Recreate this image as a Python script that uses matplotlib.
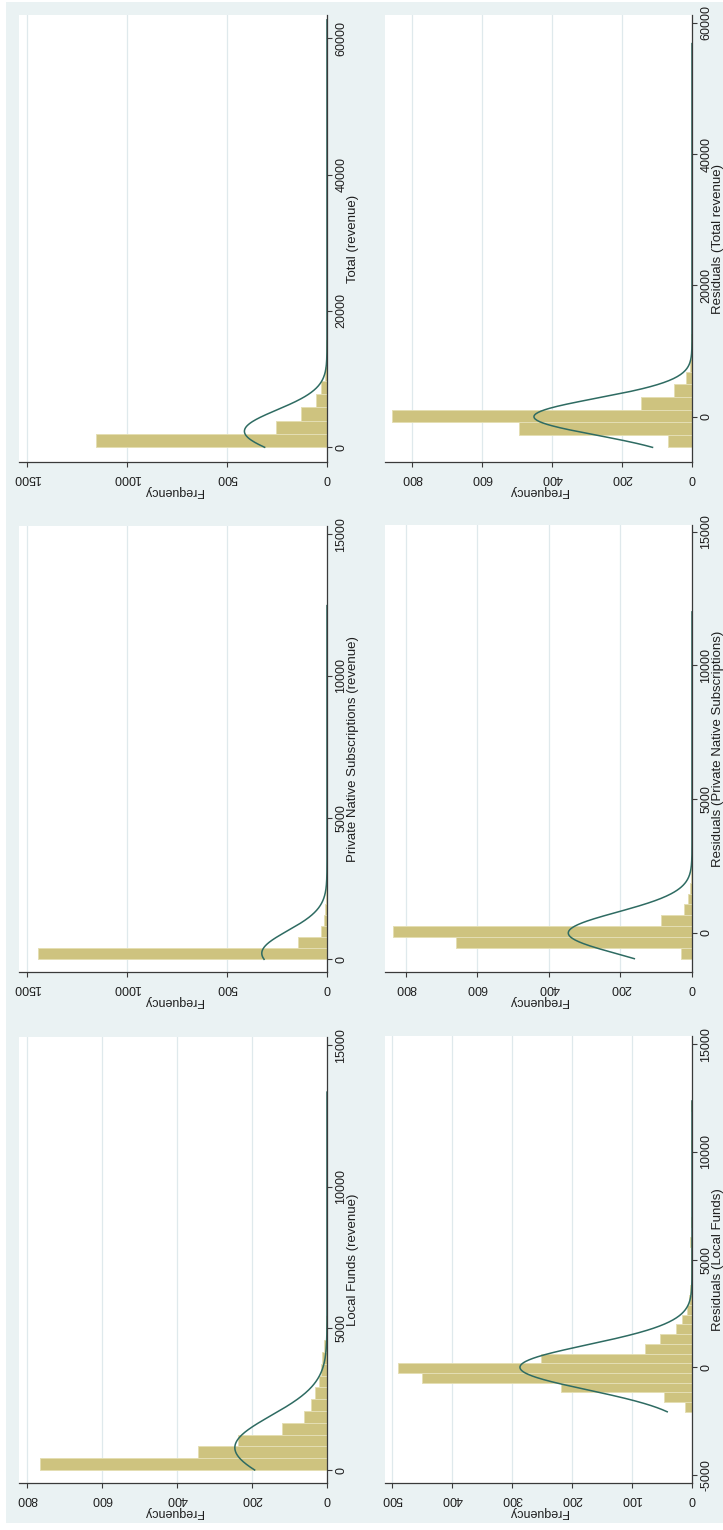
import numpy as np
import matplotlib
matplotlib.use("Agg")
import matplotlib.pyplot as plt
from matplotlib.patches import Rectangle

plt.rcParams['font.family'] = ['Liberation Sans', 'DejaVu Sans']

# ---------------- data ----------------
titles = ["Total (revenue)",
          "Private Native Subscriptions (revenue)",
          "Local Funds (revenue)",
          "Residuals (Total revenue)",
          "Residuals (Private Native Subscriptions)",
          "Residuals (Local Funds)"]

# histogram: first bin edge, bin width, counts (32 bins each)
total_start, total_width = 0, 1960
total_counts = [1156, 257, 129, 57, 28, 12, 6, 6, 2, 1, 1, 0, 0, 0, 1, 0,
                0, 0, 0, 0, 0, 0, 0, 0, 0, 0, 0, 0, 0, 0, 0, 1]
total_mean, total_sd = 2352, 3137

private_start, private_width = 0, 390
private_counts = [1445, 145, 30, 17, 8, 4, 3, 2, 1, 1, 1, 0, 1, 0, 0, 0,
                  0, 0, 0, 1, 0, 0, 0, 0, 0, 0, 0, 0, 0, 0, 0, 1]
private_mean, private_sd = 212, 792

local_start, local_width = 0, 417
local_counts = [766, 344, 237, 120, 61, 44, 33, 22, 17, 13, 8, 4, 2, 1, 1, 0,
                1, 0, 0, 0, 1, 0, 0, 0, 0, 0, 0, 0, 1, 0, 0, 1]
local_mean, local_sd = 789, 1134

rtotal_start, rtotal_width = -4670, 1922
rtotal_counts = [69, 495, 857, 147, 51, 16, 7, 4, 2, 1, 1, 0, 1, 0, 0, 0,
                 1, 0, 0, 0, 0, 0, 0, 0, 0, 0, 0, 0, 0, 0, 0, 1]
rtotal_mean, rtotal_sd = 0, 2804

rprivate_start, rprivate_width = -960, 405
rprivate_counts = [30, 660, 837, 86, 23, 11, 5, 3, 2, 1, 1, 1, 0, 1, 0, 0,
                   0, 0, 0, 1, 0, 0, 0, 0, 0, 0, 0, 0, 0, 0, 0, 1]
rprivate_mean, rprivate_sd = 0, 777

rlocal_start, rlocal_width = -2065, 451
rlocal_counts = [11, 46, 219, 450, 490, 252, 79, 54, 27, 16, 9, 5, 3, 2, 1, 1,
                 1, 4, 0, 1, 0, 0, 0, 0, 0, 0, 0, 1, 0, 0, 0, 1]
rlocal_mean, rlocal_sd = 0, 1049

freq_ticks_1500 = [0, 500, 1000, 1500]
freq_ticks_800 = [0, 200, 400, 600, 800]
freq_ticks_500 = [0, 100, 200, 300, 400, 500]
value_ticks_60000 = [0, 20000, 40000, 60000]
value_ticks_15000 = [0, 5000, 10000, 15000]
value_ticks_resid15000 = [-5000, 0, 5000, 10000, 15000]

# ---------------- style ----------------
W, H = 723, 1530
BG = '#EAF2F3'
BAR = '#CEC37F'
BAR_EDGE = '#E4DEB3'
CURVE = '#2E6B62'
AXIS = '#3A3A3A'
GRID = '#DFE9EC'
TXT = '#1E1E1E'
FS = 9

panels = [
    dict(title=titles[0], start=total_start, width=total_width, counts=total_counts,
         mu=total_mean, sd=total_sd, box=(19, 15, 327, 462), flim=1540,
         fticks=freq_ticks_1500, vlim=(-2157, 63430), vticks=value_ticks_60000),
    dict(title=titles[1], start=private_start, width=private_width, counts=private_counts,
         mu=private_mean, sd=private_sd, box=(19, 526, 327, 972), flim=1540,
         fticks=freq_ticks_1500, vlim=(-448, 15290), vticks=value_ticks_15000),
    dict(title=titles[2], start=local_start, width=local_width, counts=local_counts,
         mu=local_mean, sd=local_sd, box=(19, 1037, 327, 1483), flim=822,
         fticks=freq_ticks_800, vlim=(-459, 15290), vticks=value_ticks_15000),
    dict(title=titles[3], start=rtotal_start, width=rtotal_width, counts=rtotal_counts,
         mu=rtotal_mean, sd=rtotal_sd, box=(385, 15, 692, 462), flim=878,
         fticks=freq_ticks_800, vlim=(-6900, 61190), vticks=value_ticks_60000),
    dict(title=titles[4], start=rprivate_start, width=rprivate_width, counts=rprivate_counts,
         mu=rprivate_mean, sd=rprivate_sd, box=(385, 525, 692, 972), flim=858,
         fticks=freq_ticks_800, vlim=(-1458, 15247), vticks=value_ticks_15000),
    dict(title=titles[5], start=rlocal_start, width=rlocal_width, counts=rlocal_counts,
         mu=rlocal_mean, sd=rlocal_sd, box=(385, 1036, 692, 1483), flim=512,
         fticks=freq_ticks_500, vlim=(-5371, 15381), vticks=value_ticks_resid15000),
]

fig = plt.figure(figsize=(W / 100, H / 100), dpi=100)
fig.patch.set_facecolor('white')
fig.patches.append(Rectangle((6 / W, 1 - 1523 / H), (W - 6) / W, (1523 - 2) / H,
                             transform=fig.transFigure, facecolor=BG,
                             edgecolor='none', zorder=-10))

for p in panels:
    x0, y0, x1, y1 = p['box']
    ax = fig.add_axes([x0 / W, 1 - y1 / H, (x1 - x0) / W, (y1 - y0) / H])
    ax.set_facecolor('white')
    counts = np.array(p['counts'], dtype=float)
    edges = p['start'] + p['width'] * np.arange(len(counts))
    keep = counts > 0
    ax.barh(edges[keep], counts[keep], height=p['width'], left=0, align='edge',
            color=BAR, edgecolor=BAR_EDGE, linewidth=0.7, zorder=2)
    # normal density overlay (scaled to frequencies)
    n = counts.sum()
    v = np.linspace(p['start'], p['start'] + p['width'] * len(counts), 600)
    f = n * p['width'] / (p['sd'] * np.sqrt(2 * np.pi)) * np.exp(-0.5 * ((v - p['mu']) / p['sd']) ** 2)
    ax.plot(f, v, color=CURVE, lw=1.1, zorder=3)

    ax.set_xlim(p['flim'], 0)
    ax.set_ylim(*p['vlim'])
    for s in ('left', 'top'):
        ax.spines[s].set_visible(False)
    for s in ('bottom', 'right'):
        ax.spines[s].set_color(AXIS)
        ax.spines[s].set_linewidth(0.9)
        ax.spines[s].set_zorder(4)
    ax.yaxis.tick_right()
    ax.set_xticks(p['fticks'])
    ax.set_xticklabels([str(t) for t in p['fticks']], rotation=180)
    ax.set_yticks(p['vticks'])
    ax.set_yticklabels([str(t) for t in p['vticks']], rotation=90, va='center')
    ax.tick_params(axis='x', length=3.6, width=0.8, color=AXIS, pad=3.5,
                   labelsize=FS, labelcolor=TXT)
    ax.tick_params(axis='y', length=3.6, width=0.8, color=AXIS, pad=2.5,
                   labelsize=FS, labelcolor=TXT)
    ax.set_axisbelow(True)
    ax.xaxis.grid(True, color=GRID, lw=0.9)
    ax.yaxis.grid(False)

    fig.text(((x0 + x1) / 2) / W, 1 - (y1 + 29) / H, 'Frequency', rotation=180,
             ha='center', va='center', fontsize=FS, color=TXT)
    fig.text((x1 + 26) / W, 1 - ((y0 + y1) / 2) / H, p['title'], rotation=90,
             ha='center', va='center', fontsize=9.5, color=TXT)

fig.savefig('out.png', dpi=100, facecolor=fig.get_facecolor())
